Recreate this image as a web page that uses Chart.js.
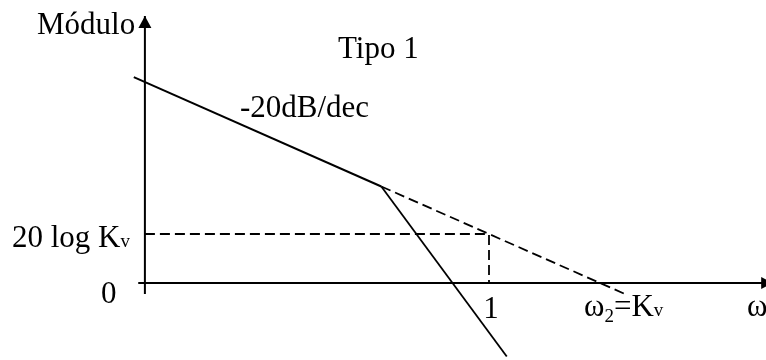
<!DOCTYPE html>
<html>
<head>
<meta charset="utf-8">
<title>Tipo 1</title>
<script src="https://cdn.jsdelivr.net/npm/chart.js@4.4.0/dist/chart.umd.min.js"></script>
<style>
  body { margin: 0; background: #fff; }
  canvas { display: block; }
</style>
</head>
<body>
<canvas id="bode" width="766" height="360"></canvas>
<script>
// x = log10(w), y = dB, with Kv = 10
const axisW = [-3.16, 2.56];
const axisDb = [-4.5, 109];
const axisAtW = -3.1;

const lowFreqW = [-3.2, -0.97];
const lowFreqDb = [84, 39.4];

const steepW = [-0.97, 0.16];
const steepDb = [39.4, -30];

const extW = [-0.97, 1.25];
const extDb = [39.4, -5];

const kvGuideW = [-3.1, 0, 0];
const kvGuideDb = [20, 20, 0];

const kvLevelDb = 20;
const unitW = 0;     // w = 1
const kvW = 1;       // w2 = Kv

function pts(xs, ys) {
    return xs.map((x, i) => ({ x: x, y: ys[i] }));
}

function seg(data, opts) {
    return Object.assign({
        data: data,
        showLine: true,
        pointRadius: 0,
        borderColor: '#000',
        borderWidth: 2,
        fill: false
    }, opts || {});
}

const FONT = '"Liberation Serif", "Times New Roman", serif';

// draw a row of text pieces: [text, size, dy]
function drawRuns(ctx, x, y, runs, align) {
    let total = 0;
    runs.forEach(r => {
        ctx.font = r[1] + 'px ' + FONT;
        total += ctx.measureText(r[0]).width;
    });
    let cx = x;
    if (align === 'center') cx = x - total / 2;
    if (align === 'right') cx = x - total;
    runs.forEach(r => {
        ctx.font = r[1] + 'px ' + FONT;
        ctx.fillText(r[0], cx, y + (r[2] || 0));
        cx += ctx.measureText(r[0]).width;
    });
}

const annotations = {
    id: 'annotations',
    afterDatasetsDraw(chart) {
        const ctx = chart.ctx;
        const sx = chart.scales.x, sy = chart.scales.y;
        const ax = sx.getPixelForValue(axisAtW);
        const yTop = sy.getPixelForValue(axisDb[1]);
        const y0 = sy.getPixelForValue(0);
        const xEnd = sx.getPixelForValue(axisW[1]);

        ctx.save();
        ctx.fillStyle = '#000';

        // arrowheads
        ctx.beginPath();
        ctx.moveTo(ax, yTop);
        ctx.lineTo(ax - 6.5, yTop + 12);
        ctx.lineTo(ax + 6.5, yTop + 12);
        ctx.closePath();
        ctx.fill();

        ctx.beginPath();
        ctx.moveTo(xEnd, y0);
        ctx.lineTo(xEnd - 12, y0 - 6);
        ctx.lineTo(xEnd - 12, y0 + 6);
        ctx.closePath();
        ctx.fill();

        ctx.textBaseline = 'alphabetic';
        drawRuns(ctx, 37, 34, [['Módulo', 31]]);
        drawRuns(ctx, 338, 58, [['Tipo 1', 31]]);
        drawRuns(ctx, 240, 117, [['-20dB/dec', 31]]);

        const yKv = sy.getPixelForValue(kvLevelDb);
        drawRuns(ctx, 12, yKv + 13, [['20 log K', 31], ['v', 19]]);
        drawRuns(ctx, 101, y0 + 20, [['0', 31]]);

        drawRuns(ctx, sx.getPixelForValue(unitW) + 2, y0 + 35, [['1', 31]], 'center');
        drawRuns(ctx, sx.getPixelForValue(kvW) - 16, y0 + 33,
            [['ω', 31], ['2', 19, 6], ['=K', 31], ['v', 19]]);
        drawRuns(ctx, 747, y0 + 33, [['ω', 31]]);
        ctx.restore();
    }
};

new Chart(document.getElementById('bode'), {
    type: 'scatter',
    data: {
        datasets: [
            seg(pts(axisW, [0, 0])),
            seg(pts([axisAtW, axisAtW], axisDb)),
            seg(pts(lowFreqW, lowFreqDb)),
            seg(pts(steepW, steepDb), { borderWidth: 1.8 }),
            seg(pts(extW, extDb), { borderWidth: 1.8, borderDash: [10, 5] }),
            seg(pts(kvGuideW, kvGuideDb), { borderWidth: 1.8, borderDash: [10, 5] })
        ]
    },
    options: {
        responsive: false,
        animation: false,
        layout: { padding: 0 },
        plugins: {
            legend: { display: false },
            tooltip: { enabled: false }
        },
        scales: {
            x: { type: 'linear', display: false, min: -4.4054, max: 2.4955 },
            y: { type: 'linear', display: false, min: -31.43, max: 115.51 }
        }
    },
    plugins: [annotations]
});
</script>
</body>
</html>
